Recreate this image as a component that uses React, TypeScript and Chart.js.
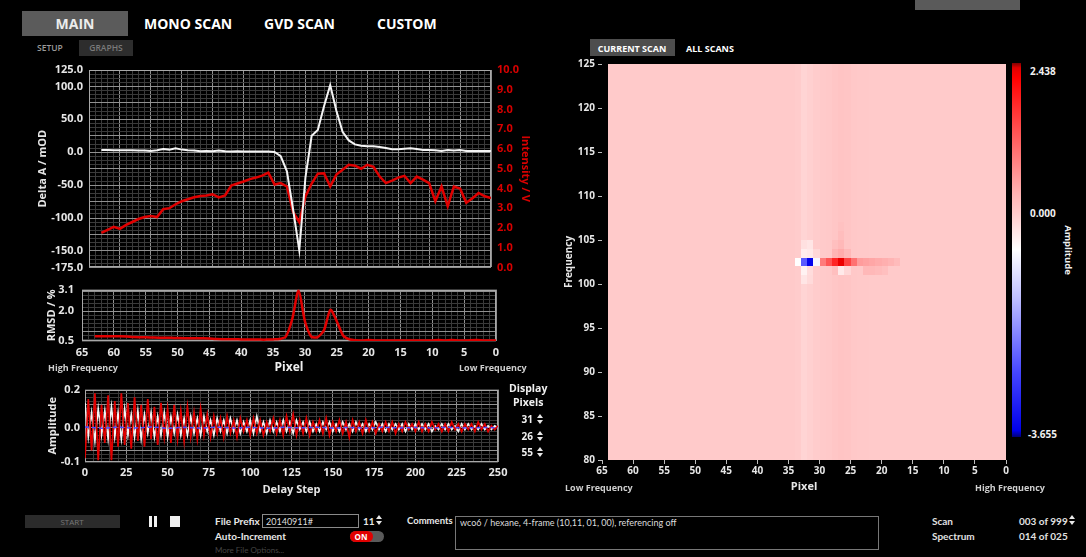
import React, { useEffect, useRef } from 'react';
import { Chart, registerables } from 'chart.js';

Chart.register(...registerables);

const FONT_FAMILY = "'Open Sans', 'Noto Sans', 'DejaVu Sans', sans-serif";
const NARROW_FONT = "Lato, 'Open Sans', sans-serif";
Chart.defaults.font.family = FONT_FAMILY;

// ---------------- data: top-left spectrum chart (pixel 63 -> 0) ----------------
const deltaAmOD = [
  3.5, 3.5, 3, 3, 3, 3, 2.5, 2.5, 2, 3,
  5, 4, 6, 4, 3, 2.5, 1.5, 2, 1.5, 2.5,
  1.5, 1, 1.5, 1, 1, 1, 1, 1, 0.5, -6,
  -29, -87, -149, -38, 25, 34, 70, 102, 63, 31,
  18, 12, 10, 9, 9, 8, 6.5, 4.5, 4.5, 5.5,
  6, 5, 3.5, 3.5, 3, 2, 3.5, 2.5, 3.5, 2,
  2, 2, 2, 2,
];
const intensityV = [
  1.75, 1.9, 2.05, 1.95, 2.15, 2.3, 2.45, 2.55, 2.6, 2.55,
  2.95, 3.0, 3.2, 3.35, 3.45, 3.55, 3.62, 3.64, 3.7, 3.55,
  3.65, 4.15, 4.25, 4.35, 4.47, 4.55, 4.65, 4.8, 4.2, 4.27,
  4.1, 2.8, 2.3, 3.6, 4.25, 4.75, 4.77, 4.1, 4.7, 4.95,
  5.2, 5.15, 5.0, 5.2, 5.1, 4.6, 4.27, 4.4, 4.55, 4.64,
  4.27, 4.6, 4.45, 4.27, 3.35, 4.1, 3.1, 4.1, 4.0, 3.27,
  3.5, 3.77, 3.6, 3.52,
];
const rmsdPercent = [
  0.74, 0.74, 0.74, 0.74, 0.74, 0.73, 0.7, 0.69, 0.69, 0.68,
  0.67, 0.67, 0.66, 0.65, 0.64, 0.64, 0.64, 0.64, 0.63, 0.6,
  0.59, 0.59, 0.59, 0.58, 0.58, 0.58, 0.57, 0.57, 0.58, 0.6,
  0.72, 1.6, 3.05, 1.5, 0.72, 0.7, 1.05, 2.08, 1.5, 0.78,
  0.58, 0.54, 0.53, 0.55, 0.53, 0.52, 0.52, 0.52, 0.52, 0.52,
  0.52, 0.52, 0.52, 0.53, 0.55, 0.53, 0.55, 0.53, 0.52, 0.54,
  0.55, 0.53, 0.52, 0.52,
];
const pixelTickLabels = [65, 60, 55, 50, 45, 40, 35, 30, 25, 20, 15, 10, 5, 0];
const deltaATickLabels = [125, 100, 50, 0, -50, -100, -150, -175];
const intensityTickLabels = [0, 1, 2, 3, 4, 5, 6, 7, 8, 9, 10];
const rmsdTickLabels = [3.1, 2.0, 0.5];

// ---------------- data: delay-step traces (every 2 steps, 0 -> 250) ----------------
const ampPixel31 = [
  -0.16, 0.15, -0.12, 0.18, -0.17, 0.12, -0.08, 0.17, -0.17, 0.14,
  -0.10, 0.18, -0.09, 0.13, -0.11, 0.16, -0.07, 0.12, -0.10, 0.15,
  -0.06, 0.11, -0.09, 0.13, -0.05, 0.10, -0.08, 0.12, -0.06, 0.09,
  -0.07, 0.11, -0.05, 0.08, -0.06, 0.10, -0.04, 0.07, -0.05, 0.06,
  -0.03, 0.05, -0.05, 0.06, -0.03, 0.04, -0.05, 0.05, -0.02, 0.04,
  -0.04, 0.05, -0.03, 0.04, -0.04, 0.03, -0.02, 0.05, -0.03, 0.04,
  -0.04, 0.06, -0.02, 0.07, -0.04, 0.04, -0.03, 0.05, -0.04, 0.03,
  -0.02, 0.04, -0.03, 0.05, -0.04, 0.03, -0.02, 0.04, -0.03, 0.03,
  -0.05, 0.04, -0.02, 0.03, -0.03, 0.04, -0.02, 0.03, -0.03, 0.02,
  -0.02, 0.03, -0.02, 0.03, -0.03, 0.02, -0.02, 0.03, -0.01, 0.02,
  -0.02, 0.03, -0.02, 0.02, -0.02, 0.03, -0.01, 0.02, -0.02, 0.02,
  -0.02, 0.03, -0.01, 0.02, -0.02, 0.02, -0.01, 0.02, -0.02, 0.03,
  -0.01, 0.02, -0.02, 0.01, -0.01, 0.01,
];
const ampPixel26 = [
  0.13, -0.05, 0.08, -0.07, 0.10, -0.04, 0.09, -0.06, 0.11, -0.05,
  0.08, -0.06, 0.10, -0.04, 0.07, -0.05, 0.09, -0.06, 0.07, -0.03,
  0.08, -0.05, 0.06, -0.04, 0.08, -0.05, 0.06, -0.03, 0.07, -0.04,
  0.05, -0.04, 0.06, -0.03, 0.05, -0.04, 0.06, -0.02, 0.04, -0.04,
  0.05, -0.02, 0.04, -0.03, 0.05, -0.02, 0.04, -0.03, 0.03, -0.02,
  0.04, -0.03, 0.06, -0.02, 0.03, -0.03, 0.04, -0.02, 0.03, -0.02,
  0.04, -0.02, 0.03, -0.03, 0.04, -0.01, 0.03, -0.02, 0.03, -0.02,
  0.02, -0.02, 0.03, -0.01, 0.03, -0.02, 0.02, -0.02, 0.03, -0.01,
  0.02, -0.02, 0.03, -0.01, 0.02, -0.02, 0.02, -0.01, 0.03, -0.01,
  0.02, -0.02, 0.02, -0.01, 0.02, -0.01, 0.02, -0.02, 0.02, -0.01,
  0.02, -0.01, 0.02, -0.01, 0.02, -0.02, 0.01, -0.01, 0.02, -0.01,
  0.02, -0.01, 0.01, -0.02, 0.02, -0.01, 0.02, -0.01, 0.01, -0.01,
  0.02, -0.01, 0.01, -0.01, 0.01, 0.0,
];
// every 10 steps
const ampPixel55 = [
  0.004, -0.003, 0.003, -0.002, 0.004, -0.003, 0.002, -0.002, 0.003, -0.002,
  0.002, -0.003, 0.002, -0.001, 0.002, -0.002, 0.001, -0.002, 0.002, -0.001,
  0.001, -0.001, 0.002, -0.001, 0.001, 0.0,
];
const delayTickLabels = [0, 25, 50, 75, 100, 125, 150, 175, 200, 225, 250];
const amplitudeTickValues = [0.2, 0.0, -0.18];
const displayPixels = ['31', '26', '55'];

// ---------------- data: 2D map (pixel 0..63 x frequency 80..124) ----------------
const freqTickLabels = [80, 85, 90, 95, 100, 105, 110, 115, 120, 125];
const heatFrequencies = [80, 81, 82, 83, 84, 85, 86, 87, 88, 89, 90, 91, 92, 93, 94, 95, 96, 97, 98, 99, 100, 101, 102, 103, 104, 105, 106, 107, 108, 109, 110, 111, 112, 113, 114, 115, 116, 117, 118, 119, 120, 121, 122, 123, 124];
// column background amplitude for pixel 0..63
const heatColumnBase = [
  0, 0, 0, 0, 0, 0, 0, 0, 0, 0,
  0, 0, 0, 0, 0, 0, 0, 0, 0, 0,
  0, 0, 0.01, 0.02, 0.03, 0.07, 0.08, 0.05, 0.02, 0,
  -0.02, -0.07, -0.11, -0.02, 0, 0, 0, 0, 0, 0,
  0, 0, 0, 0, 0, 0, 0, 0, 0, 0,
  0, 0, 0, 0, 0, 0, 0, 0, 0, 0,
  0, 0, 0, 0,
];
// [pixel, frequency, amplitude]
const heatFeatures: [number, number, number][] = [
  [33, 102, -0.6], [32, 102, -2.4], [31, 102, -3.5], [30, 102, -0.7],
  [29, 102, 0.9], [28, 102, 1.3], [27, 102, 1.8], [26, 102, 2.3], [25, 102, 1.5], [24, 102, 1.0],
  [23, 102, 0.55], [22, 102, 0.5], [21, 102, 0.45], [20, 102, 0.4], [19, 102, 0.35], [18, 102, 0.3], [17, 102, 0.2],
  [32, 103, -0.4], [31, 103, -0.35], [30, 103, -0.15], [27, 103, 0.3], [26, 103, 0.4], [25, 103, 0.25],
  [32, 104, -0.25], [31, 104, -0.3], [27, 104, 0.15], [26, 104, 0.25],
  [26, 105, 0.18], [26, 106, 0.12],
  [32, 101, -0.45], [31, 101, -0.2], [27, 101, 0.15], [26, 101, -0.35], [25, 101, -0.15],
  [22, 101, 0.25], [21, 101, 0.25], [20, 101, 0.2], [19, 101, 0.15],
  [32, 100, -0.3], [31, 100, -0.18],
];
const colorStopValues = [2.438, 2.36, 2.2, 1.2, 0.3, 0, -0.6, -1.4, -2.6, -3.55, -3.655];
const colorStopRGB = [
  [128, 0, 0], [225, 0, 0], [255, 0, 0], [255, 95, 95], [255, 180, 180], [255, 202, 202],
  [255, 255, 255], [190, 190, 255], [70, 70, 255], [0, 0, 235], [0, 0, 120],
];

// ---------------- helpers ----------------
function ampColor(v: number): string {
  const vals = colorStopValues;
  if (v >= vals[0]) return `rgb(${colorStopRGB[0].join(',')})`;
  for (let i = 0; i < vals.length - 1; i++) {
    if (v <= vals[i] && v >= vals[i + 1]) {
      const t = (vals[i] - v) / (vals[i] - vals[i + 1]);
      const a = colorStopRGB[i], b = colorStopRGB[i + 1];
      const c = a.map((x, k) => Math.round(x + (b[k] - x) * t));
      return `rgb(${c.join(',')})`;
    }
  }
  return `rgb(${colorStopRGB[colorStopRGB.length - 1].join(',')})`;
}

const MAJOR = '#909090';
const MINOR = '#3a3a3a';
const LABEL = '#e6e6e6';
const RED = '#e00000';

const near = (a: number, b: number) => Math.abs(a - b) < 1e-9;
const setTicks = (values: number[]) => (axis: any) => {
  axis.ticks = values.map((v) => ({ value: v }));
};
const range = (start: number, count: number, step: number) =>
  Array.from({ length: count }, (_, i) => +(start + i * step).toFixed(6));

const framePlugin = {
  id: 'frame',
  beforeDatasetsDraw(chart: any, _args: any, opts: any) {
    const { ctx, chartArea } = chart;
    const l = Math.round(chartArea.left), t = Math.round(chartArea.top);
    const r = Math.round(chartArea.right), b = Math.round(chartArea.bottom);
    ctx.save();
    ctx.strokeStyle = (opts && opts.color) || '#a8a8a8';
    ctx.lineWidth = 1;
    ctx.strokeRect(l + 0.5, t + 0.5, r - l - 1, b - t - 1);
    ctx.restore();
  },
};

const heatPlugin = {
  id: 'heatCells',
  beforeDatasetsDraw(chart: any) {
    const { ctx, chartArea, scales } = chart;
    const xs = scales.x, ys = scales.y;
    ctx.save();
    ctx.beginPath();
    ctx.rect(chartArea.left, chartArea.top, chartArea.right - chartArea.left, chartArea.bottom - chartArea.top);
    ctx.clip();
    for (const c of chart.data.datasets[0].data) {
      const xa = Math.round(xs.getPixelForValue(c.x + 1));
      const xb = Math.round(xs.getPixelForValue(c.x));
      const ya = Math.round(ys.getPixelForValue(c.y + 1));
      const yb = Math.round(ys.getPixelForValue(c.y));
      ctx.fillStyle = ampColor(c.v);
      ctx.fillRect(Math.min(xa, xb), Math.min(ya, yb), Math.abs(xb - xa), Math.abs(yb - ya));
    }
    ctx.restore();
  },
};

const baseOptions = {
  responsive: false,
  animation: false as const,
  devicePixelRatio: 1,
  events: [] as any[],
};

const tickFont = (size = 11) => ({ family: FONT_FAMILY, weight: 'bold' as const, size });

// ---------------- chart configs ----------------
function mainConfig(): any {
  const pixels = deltaAmOD.map((_, i) => 63 - i);
  return {
    type: 'line',
    data: {
      datasets: [
        {
          label: 'Delta A',
          data: pixels.map((p, i) => ({ x: p, y: deltaAmOD[i] })),
          borderColor: '#f4f4f4',
          borderWidth: 2,
          pointRadius: 0,
          yAxisID: 'y',
          order: 0,
        },
        {
          label: 'Intensity',
          data: pixels.map((p, i) => ({ x: p, y: intensityV[i] })),
          borderColor: RED,
          borderWidth: 2.5,
          pointRadius: 0,
          yAxisID: 'y2',
          order: 1,
        },
      ],
    },
    options: {
      ...baseOptions,
      layout: { padding: { left: 32, right: 9, top: 15, bottom: 9 } },
      plugins: { legend: { display: false }, tooltip: { enabled: false } },
      scales: {
        x: {
          type: 'linear', min: 0, max: 65, reverse: true,
          afterBuildTicks: setTicks(range(0, 66, 1)),
          ticks: { display: false, autoSkip: false },
          grid: { color: (c: any) => (c.tick && c.tick.value % 5 === 0 ? MAJOR : MINOR), drawTicks: false },
          border: { display: false },
          afterFit: (s: any) => { s.height = 0; },
        },
        y: {
          type: 'linear', position: 'left', min: -175, max: 125,
          afterBuildTicks: setTicks(range(-175, 49, 6.25)),
          ticks: {
            autoSkip: false, padding: 6, color: LABEL, font: tickFont(11),
            callback: (v: number) => (deltaATickLabels.some((t) => near(t, v)) ? v.toFixed(1) : ''),
          },
          grid: { color: (c: any) => (c.tick && near(c.tick.value % 25, 0) ? MAJOR : MINOR), drawTicks: false },
          border: { display: false },
          title: { display: true, text: 'Delta A / mOD', color: LABEL, font: tickFont(11) },
          afterFit: (s: any) => { s.width = 57; },
        },
        y2: {
          type: 'linear', position: 'right', min: 0, max: 10,
          afterBuildTicks: setTicks(intensityTickLabels),
          ticks: { autoSkip: false, padding: 6, color: '#d80000', font: tickFont(11), callback: (v: number) => v.toFixed(1) },
          grid: { display: false, drawTicks: false },
          border: { display: false },
          title: { display: true, text: 'Intensity / V', color: '#d80000', font: tickFont(11) },
          afterFit: (s: any) => { s.width = 45; },
        },
      },
    },
    plugins: [framePlugin],
  };
}

function rmsdConfig(): any {
  const pixels = rmsdPercent.map((_, i) => 63 - i);
  const yGrid = [0.5, ...range(0.6, 13, 0.2), 3.1];
  return {
    type: 'line',
    data: {
      datasets: [
        {
          label: 'RMSD',
          data: pixels.map((p, i) => ({ x: p, y: rmsdPercent[i] })),
          borderColor: RED,
          borderWidth: 2.5,
          pointRadius: 0,
          tension: 0.25,
        },
      ],
    },
    options: {
      ...baseOptions,
      layout: { padding: { left: 41, right: 49, top: 11, bottom: 0 } },
      plugins: { legend: { display: false }, tooltip: { enabled: false } },
      scales: {
        x: {
          type: 'linear', min: 0, max: 65, reverse: true,
          afterBuildTicks: setTicks(range(0, 66, 1)),
          ticks: {
            autoSkip: false, maxRotation: 0, padding: 5, color: LABEL, font: tickFont(11),
            callback: (v: number) => (pixelTickLabels.includes(v) ? String(v) : ''),
          },
          grid: { color: (c: any) => (c.tick && c.tick.value % 5 === 0 ? MAJOR : MINOR), drawTicks: false },
          border: { display: false },
          title: { display: true, text: 'Pixel', color: '#f0f0f0', font: tickFont(12), padding: { top: 0, bottom: 5 } },
          afterFit: (s: any) => { s.height = 39; },
        },
        y: {
          type: 'linear', min: 0.5, max: 3.1,
          afterBuildTicks: setTicks(yGrid),
          ticks: {
            autoSkip: false, padding: 8, color: LABEL, font: tickFont(11),
            callback: (v: number) => (rmsdTickLabels.some((t) => near(t, v)) ? v.toFixed(1) : ''),
          },
          grid: { color: (c: any) => (c.tick && [1, 2, 3].some((t) => near(t, c.tick.value)) ? MAJOR : MINOR), drawTicks: false },
          border: { display: false },
          title: { display: true, text: 'RMSD / %', color: LABEL, font: tickFont(11) },
          afterFit: (s: any) => { s.width = 41; },
        },
      },
    },
    plugins: [framePlugin],
  };
}

function delayConfig(): any {
  const steps = ampPixel31.map((_, i) => i * 2);
  const steps10 = ampPixel55.map((_, i) => i * 10);
  return {
    type: 'line',
    data: {
      datasets: [
        {
          label: 'Pixel 55',
          data: steps10.map((s, i) => ({ x: s, y: ampPixel55[i] })),
          borderColor: '#4a4aff',
          borderWidth: 1.5,
          borderDash: [4, 3],
          pointRadius: 0,
          order: 0,
        },
        {
          label: 'Pixel 31',
          data: steps.map((s, i) => ({ x: s, y: ampPixel31[i] })),
          borderColor: RED,
          borderWidth: 1.7,
          pointRadius: 0,
          order: 1,
        },
        {
          label: 'Pixel 26',
          data: steps.map((s, i) => ({ x: s, y: ampPixel26[i] })),
          borderColor: '#f4f4f4',
          borderWidth: 1.6,
          pointRadius: 0,
          order: 2,
        },
      ],
    },
    options: {
      ...baseOptions,
      layout: { padding: { left: 42, right: 47, top: 7, bottom: 0 } },
      plugins: { legend: { display: false }, tooltip: { enabled: false } },
      scales: {
        x: {
          type: 'linear', min: 0, max: 250,
          afterBuildTicks: setTicks(range(0, 51, 5)),
          ticks: {
            autoSkip: false, maxRotation: 0, padding: 4, color: LABEL, font: tickFont(11),
            callback: (v: number) => (delayTickLabels.includes(v) ? String(v) : ''),
          },
          grid: { color: (c: any) => (c.tick && c.tick.value % 25 === 0 ? MAJOR : MINOR), drawTicks: false },
          border: { display: false },
          title: { display: true, text: 'Delay Step', color: LABEL, font: tickFont(11), padding: { top: 0, bottom: 2 } },
          afterFit: (s: any) => { s.height = 36; },
        },
        y: {
          type: 'linear', min: -0.18, max: 0.2,
          afterBuildTicks: setTicks(range(-0.18, 20, 0.02)),
          ticks: {
            autoSkip: false, padding: 5, color: LABEL, font: tickFont(11),
            callback: (v: number) =>
              amplitudeTickValues.some((t) => near(t, v)) ? (Math.trunc(Math.round(v * 1000) / 100) / 10).toFixed(1) : '',
          },
          grid: {
            color: (c: any) => (c.tick && (near(c.tick.value, 0) || near(Math.abs(c.tick.value), 0.12)) ? MAJOR : MINOR),
            drawTicks: false,
          },
          border: { display: false },
          title: { display: true, text: 'Amplitude', color: LABEL, font: tickFont(11) },
          afterFit: (s: any) => { s.width = 43; },
        },
      },
    },
    plugins: [framePlugin],
  };
}

function heatConfig(): any {
  const cells: { x: number; y: number; v: number }[] = [];
  for (const f of heatFrequencies) {
    for (let p = 0; p < heatColumnBase.length; p++) {
      const feat = heatFeatures.find((h) => h[0] === p && h[1] === f);
      cells.push({ x: p, y: f, v: feat ? feat[2] : heatColumnBase[p] });
    }
  }
  const axisStyle = {
    color: '#bdbdbd', drawOnChartArea: false, drawTicks: true, tickLength: 4, tickColor: '#bdbdbd',
  };
  return {
    type: 'scatter',
    data: { datasets: [{ label: 'Amplitude', data: cells, pointRadius: 0, pointHoverRadius: 0 }] },
    options: {
      ...baseOptions,
      layout: { padding: { left: 9, right: 14, top: 8, bottom: 0 } },
      plugins: { legend: { display: false }, tooltip: { enabled: false } },
      scales: {
        x: {
          type: 'linear', min: 0, max: 65, reverse: true,
          afterBuildTicks: setTicks(pixelTickLabels),
          ticks: { autoSkip: false, maxRotation: 0, padding: 1, color: LABEL, font: tickFont(10) },
          grid: axisStyle,
          border: { display: false },
          title: { display: true, text: 'Pixel', color: LABEL, font: tickFont(11), padding: { top: 0, bottom: 7 } },
          afterFit: (s: any) => { s.height = 40; },
        },
        y: {
          type: 'linear', min: 80, max: 125,
          afterBuildTicks: setTicks(freqTickLabels),
          ticks: { autoSkip: false, padding: 3, color: LABEL, font: tickFont(10) },
          grid: axisStyle,
          border: { display: false },
          title: { display: true, text: 'Frequency', color: LABEL, font: tickFont(10) },
          afterFit: (s: any) => { s.width = 43; },
        },
      },
    },
    plugins: [heatPlugin],
  };
}

// ---------------- components ----------------
function ChartCanvas({ left, top, width, height, make }: { left: number; top: number; width: number; height: number; make: () => any }) {
  const ref = useRef<HTMLCanvasElement>(null);
  useEffect(() => {
    const chart = new Chart(ref.current as HTMLCanvasElement, make());
    return () => chart.destroy();
  }, []);
  return (
    <canvas
      ref={ref}
      width={width}
      height={height}
      style={{ position: 'absolute', left, top, width, height, display: 'block' }}
    />
  );
}

function T({ x, y, s = 10, c = LABEL, w = 700, anchor = 'left', children, rotate = 0, f = FONT_FAMILY }: any) {
  const tx = anchor === 'center' ? '-50%' : anchor === 'right' ? '-100%' : '0';
  return (
    <div
      style={{
        position: 'absolute', left: x, top: y,
        transform: `translate(${tx}, -50%)${rotate ? ` rotate(${rotate}deg)` : ''}`,
        fontSize: s, color: c, fontWeight: w, lineHeight: 1, whiteSpace: 'nowrap', fontFamily: f,
      }}
    >
      {children}
    </div>
  );
}

function Box({ x, y, w, h, bg = 'transparent', border, radius }: any) {
  return (
    <div style={{ position: 'absolute', left: x, top: y, width: w, height: h, background: bg, border, borderRadius: radius, boxSizing: 'border-box' }} />
  );
}

function Spinner({ x, y }: { x: number; y: number }) {
  const tri = (up: boolean) => ({
    width: 0, height: 0,
    borderLeft: '3px solid transparent', borderRight: '3px solid transparent',
    ...(up ? { borderBottom: '4px solid #e8e8e8' } : { borderTop: '4px solid #e8e8e8' }),
  });
  return (
    <div style={{ position: 'absolute', left: x, top: y, display: 'flex', flexDirection: 'column', gap: 2 }}>
      <div style={tri(true)} />
      <div style={tri(false)} />
    </div>
  );
}

export default function App() {
  useEffect(() => {
    document.body.style.margin = '0';
    document.body.style.background = '#000';
  }, []);

  const cbTop = 63, cbH = 374;
  const span = colorStopValues[0] - colorStopValues[colorStopValues.length - 1];
  const gradient = `linear-gradient(to bottom, ${colorStopValues
    .map((v, i) => `rgb(${colorStopRGB[i].join(',')}) ${(((colorStopValues[0] - v) / span) * 100).toFixed(2)}%`)
    .join(', ')})`;
  const cbY = (v: number) => cbTop + ((colorStopValues[0] - v) / span) * cbH;

  return (
    <div style={{ position: 'fixed', left: 0, top: 0, width: 1086, height: 557, background: '#000', overflow: 'hidden', fontFamily: FONT_FAMILY }}>
      {/* top tabs */}
      <Box x={22} y={11} w={106} h={25} bg="#5b5b5b" />
      <T x={75} y={24} s={14} c="#ececec" anchor="center">MAIN</T>
      <T x={144} y={24} s={14} c="#ffffff">MONO SCAN</T>
      <T x={264} y={24} s={14} c="#ffffff">GVD SCAN</T>
      <T x={377} y={24} s={14} c="#ffffff">CUSTOM</T>
      <T x={37} y={48} s={8.5} c="#9a9a9a" w={600}>SETUP</T>
      <Box x={79} y={40} w={54} h={16} bg="#2d2d2d" />
      <T x={106} y={48} s={8.5} c="#7a7a7a" w={600} anchor="center">GRAPHS</T>
      <Box x={915} y={0} w={105} h={10} bg="#5a5a5a" />

      {/* left charts */}
      <ChartCanvas left={0} top={55} width={545} height={225} make={mainConfig} />
      <ChartCanvas left={0} top={275} width={545} height={105} make={rmsdConfig} />
      <T x={48} y={367} s={9} c="#cfcfcf">High Frequency</T>
      <T x={459} y={367} s={9} c="#cfcfcf">Low Frequency</T>
      <ChartCanvas left={0} top={378} width={545} height={120} make={delayConfig} />
      <T x={509} y={388} s={10.5} c="#f0f0f0">Display</T>
      <T x={513} y={402} s={10.5} c="#f0f0f0">Pixels</T>
      {displayPixels.map((p, i) => (
        <React.Fragment key={p}>
          <T x={533} y={419 + i * 16.5} s={10} c="#f0f0f0" anchor="right">{p}</T>
          <Spinner x={537} y={414 + i * 16.5} />
        </React.Fragment>
      ))}

      {/* right map */}
      <Box x={590} y={39} w={85} h={17} bg="#4d4d4d" />
      <T x={632} y={48} s={9} c="#ffffff" anchor="center">CURRENT SCAN</T>
      <T x={686} y={48} s={9} c="#ffffff">ALL SCANS</T>
      <ChartCanvas left={550} top={55} width={470} height={445} make={heatConfig} />
      <T x={565} y={487} s={9} c="#cfcfcf">Low Frequency</T>
      <T x={975} y={487} s={9} c="#cfcfcf">High Frequency</T>
      <div style={{ position: 'absolute', left: 1012, top: cbTop, width: 9, height: cbH, background: gradient }} />
      <T x={1030} y={cbY(colorStopValues[0]) + 8} s={10} c="#f0f0f0">{colorStopValues[0].toFixed(3)}</T>
      <T x={1030} y={cbY(0)} s={10} c="#f0f0f0">{(0).toFixed(3)}</T>
      <T x={1028} y={cbY(colorStopValues[colorStopValues.length - 1]) - 3} s={10} c="#f0f0f0">
        {colorStopValues[colorStopValues.length - 1].toFixed(3)}
      </T>
      <T x={1068} y={250} s={9.5} c="#f0f0f0" anchor="center" rotate={90}>Amplitude</T>

      {/* bottom controls */}
      <Box x={25} y={515} w={95} h={13} bg="#2b2b2b" />
      <T x={72} y={521.5} s={8} c="#777777" w={400} anchor="center">START</T>
      <Box x={149} y={516} w={3} h={11} bg="#f0f0f0" />
      <Box x={154} y={516} w={3} h={11} bg="#f0f0f0" />
      <Box x={170} y={516} w={10} h={11} bg="#f0f0f0" />
      <T x={215} y={521} s={10} c="#e8e8e8" f={NARROW_FONT}>File Prefix</T>
      <Box x={262} y={514} w={97} h={14} bg="#000" border="1px solid #8a8a8a" />
      <T x={266} y={521} s={9} c="#dddddd" w={400} f={NARROW_FONT}>20140911#</T>
      <T x={363} y={521} s={10} c="#e8e8e8" f={NARROW_FONT}>11</T>
      <Spinner x={376} y={515} />
      <T x={215} y={536} s={10} c="#e8e8e8" f={NARROW_FONT}>Auto-Increment</T>
      <Box x={350} y={531} w={34} h={11} bg="#5a5a5a" radius={6} />
      <Box x={350} y={531} w={23} h={11} bg="#e00000" radius={6} />
      <T x={361} y={536.5} s={8} c="#ffffff" anchor="center">ON</T>
      <T x={215} y={550} s={8} c="#444444" w={400} f={NARROW_FONT}>More File Options...</T>
      <T x={407} y={521} s={9.5} c="#e8e8e8" f={NARROW_FONT}>Comments</T>
      <Box x={455} y={516} w={424} h={34} border="1px solid #777" />
      <T x={460} y={522} s={9} c="#dddddd" w={400} f={NARROW_FONT}>wco6 / hexane, 4-frame (10,11, 01, 00), referencing off</T>
      <T x={932} y={521} s={10} c="#e0e0e0" f={NARROW_FONT}>Scan</T>
      <T x={932} y={536} s={10} c="#e0e0e0" f={NARROW_FONT}>Spectrum</T>
      <T x={1019} y={521} s={10} c="#e0e0e0" f={NARROW_FONT}>003 of 999</T>
      <Spinner x={1069} y={515} />
      <T x={1019} y={536} s={10} c="#e0e0e0" f={NARROW_FONT}>014 of 025</T>
    </div>
  );
}
